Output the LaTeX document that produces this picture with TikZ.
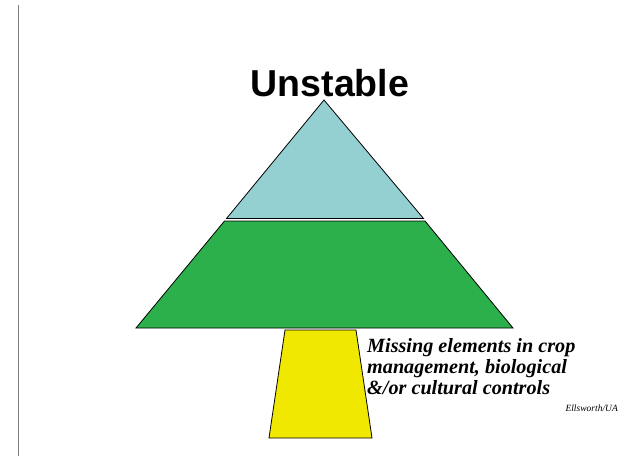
\documentclass[tikz,border=0pt]{standalone}
\usepackage{fontspec}
\setmainfont{Liberation Serif}
\newfontfamily\headfont{Liberation Sans}
\usetikzlibrary{positioning}
\definecolor{tipblue}{RGB}{148, 207, 210}
\definecolor{midgreen}{RGB}{44, 176, 75}
\definecolor{legyellow}{RGB}{240, 232, 0}
\definecolor{railgray}{RGB}{128, 128, 128}

\begin{document}
\begin{tikzpicture}[x=1pt, y=-1pt,
    layer/.style={draw=black, line width=0.8pt, line join=miter},
    title/.style={font=\headfont\bfseries\fontsize{37.5}{40}\selectfont, inner sep=0pt},
    note/.style={font=\bfseries\itshape\fontsize{20.2}{21}\selectfont, align=left,
                 inner sep=0pt, anchor=north west},
    credit/.style={font=\itshape\fontsize{9.5}{10}\selectfont, inner sep=0pt, anchor=east}
]
\useasboundingbox (0,0) rectangle (619,456);

%% ── Margin rule ─────────────────────────────────────────────────────────────
\draw[railgray, line width=1pt] (18,5) -- (18,456);

%% ── Pyramid ─────────────────────────────────────────────────────────────────
\fill[fill=tipblue]  (324,100) -- (423.5,218.5) -- (226.5,218.5) -- cycle;
\fill[fill=midgreen] (224.5,221) -- (425,221) -- (513,328) -- (136,328) -- cycle;
\draw[layer] (324,100) -- (423.5,218.5) -- (226.5,218.5) -- cycle;
\draw[layer] (224.5,221) -- (425,221) -- (513,328) -- (136,328) -- cycle;

%% ── Support leg ─────────────────────────────────────────────────────────────
\draw[layer, fill=legyellow] (285,330) -- (356,330) -- (372,438) -- (269,438) -- cycle;

%% ── Labels ──────────────────────────────────────────────────────────────────
\node[title] (head) at (330,83) {Unstable};
\node[note] (missing) at (367,338) {Missing elements in crop\\management, biological\\\&/or cultural controls};
\node[credit] (src) at (618,408) {Ellsworth/UA};

\end{tikzpicture}
\end{document}
